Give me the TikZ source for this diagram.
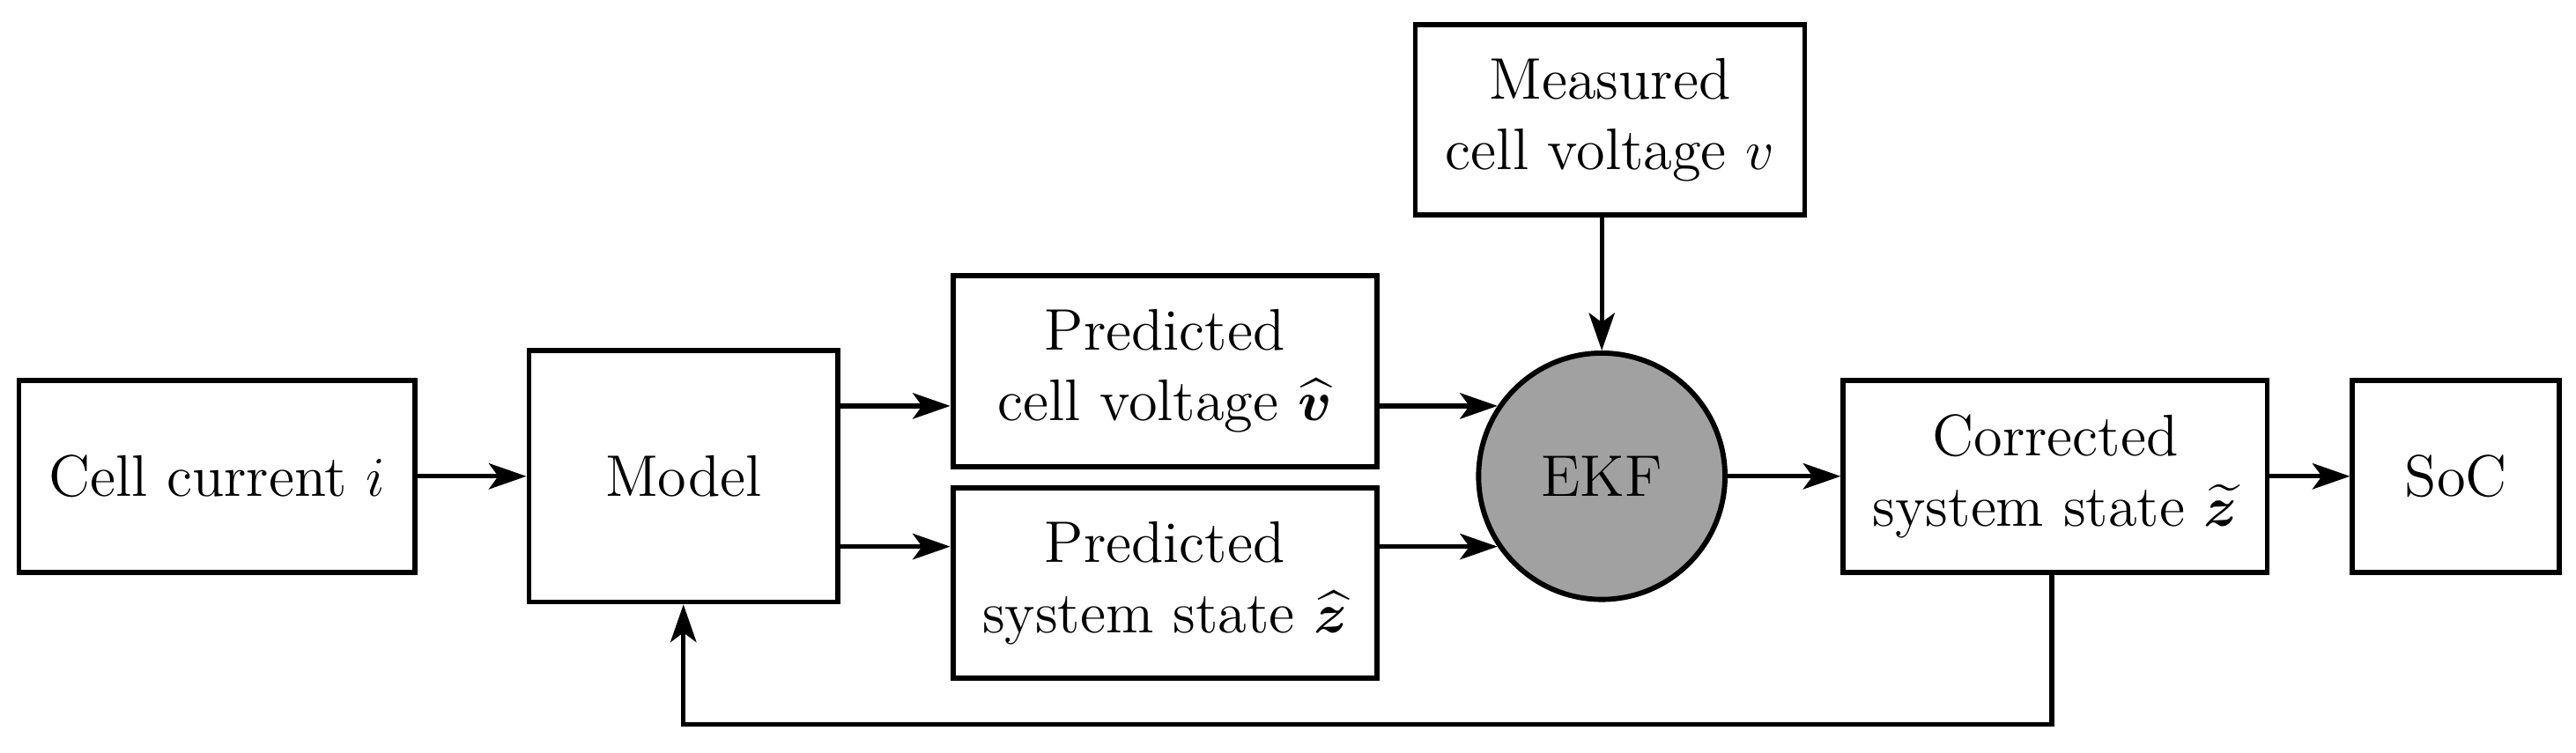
\documentclass[tikz,border=0pt]{standalone}
\usepackage{amsmath,bm}
\usetikzlibrary{arrows.meta}
\tikzset{every picture/.style={line width=1pt}}
\tikzset{blk/.style={draw,line width=1.1pt,align=center,inner sep=0pt,font=\fontsize{12.5}{15}\selectfont},
  arr/.style={-{Stealth[length=8pt,width=5.5pt,inset=2pt]}}}

\begin{document}
\begin{tikzpicture}[x=0.35pt,y=0.35pt,yscale=-1,xscale=1]
\useasboundingbox (0,0) rectangle (1568,458);

% Blocks
\node[blk,minimum width=84.35pt,minimum height=40.95pt] (cur) at (132,290) {Cell current $i$};
\node[blk,minimum width=65.8pt,minimum height=53.55pt] (model) at (416,290) {Model};
\node[blk,minimum width=90.3pt,minimum height=40.6pt] (pv) at (709,226) {Predicted\\cell voltage $\widehat{\bm{v}}$};
\node[blk,minimum width=90.3pt,minimum height=40.6pt] (ps) at (709,355) {Predicted\\system state $\widehat{\bm{z}}$};
\node[blk,minimum width=82.95pt,minimum height=40.6pt] (meas) at (980,73) {Measured\\cell voltage $v$};
\node[blk,circle,fill=black!37,minimum size=52.5pt] (ekf) at (975,290) {EKF};
\node[blk,minimum width=90.3pt,minimum height=40.95pt] (corr) at (1251,290) {Corrected\\system state $\widetilde{\bm{z}}$};
\node[blk,minimum width=44.1pt,minimum height=40.95pt] (soc) at (1495,290) {SoC};

% Connections
\draw[arr] (cur) -- (model);
\draw[arr] (model.east |- ekf.146) -- (pv.west |- ekf.146);
\draw[arr] (model.east |- ekf.214) -- (ps.west |- ekf.214);
\draw[arr] (pv.east |- ekf.146) -- (ekf.146);
\draw[arr] (ps.east |- ekf.214) -- (ekf.214);
\draw[arr] (meas.south -| ekf) -- (ekf);
\draw[arr] (ekf) -- (corr);
\draw[arr] (corr) -- (soc);
\draw[arr] (corr.south -| 1249,0) -- (1249,441) -- (416,441) -- (model.south);
\end{tikzpicture}
\end{document}
